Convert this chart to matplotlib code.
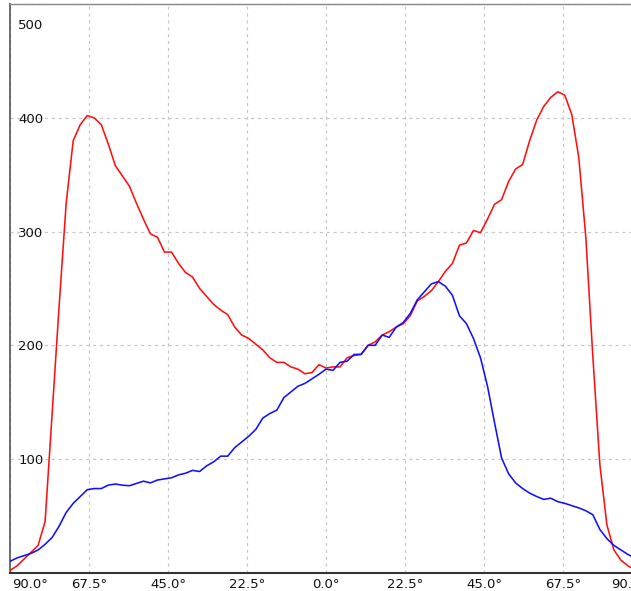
import numpy as np
import matplotlib
matplotlib.use("Agg")
import matplotlib.pyplot as plt
from matplotlib.transforms import ScaledTranslation

# Sample angles (degrees), 2-degree steps
angles = np.arange(-90, 91, 2)

red_counts = [
    2, 6, 12, 18, 24, 45, 140, 235, 325, 380,
    394, 402, 400, 394, 377, 358, 349, 340, 325, 311,
    298, 295, 282, 282, 272, 264, 260, 250, 243, 236,
    231, 227, 216, 209, 206, 201, 196, 189, 185, 185,
    181, 179, 175, 176, 183, 180, 181, 181, 189, 191,
    192, 200, 203, 209, 212, 216, 219, 226, 239, 243,
    248, 256, 265, 272, 288, 290, 301, 299, 311, 324,
    328, 344, 355, 359, 380, 398, 410, 418, 423, 420,
    403, 365, 295, 190, 95, 42, 20, 11, 6, 3,
    1,
]

blue_counts = [
    10, 13, 15, 17, 20, 25, 31, 41, 53, 61,
    67, 73, 74, 74, 77, 78, 77, 76.5, 78.5, 80.5,
    79, 81.5, 82.5, 83.5, 86, 87.5, 90, 89, 94, 97.5,
    102.5, 102.5, 110, 115, 120, 126, 136, 140, 143, 154,
    159, 164, 166.5, 170.5, 174.5, 179, 178, 185, 186, 192,
    192, 200, 200, 209, 207, 216, 220, 228, 240, 247,
    254, 256, 252, 244, 226, 219, 206, 189, 164, 132,
    101, 87, 79, 74, 70, 67, 64.5, 65.5, 62.5, 61,
    59, 57, 54.5, 51, 38, 30, 24, 20, 16, 13,
    10,
]

x_ticks = np.arange(-90, 90.1, 22.5)
x_tick_labels = [f"{abs(v):.1f}°" for v in x_ticks]
y_ticks = [100, 200, 300, 400, 500]

W, H = 631, 591
fig = plt.figure(figsize=(W / 100, H / 100), dpi=100)
fig.patch.set_facecolor("white")

# Plot area runs a little past the right edge of the canvas
left_px, right_px = 10, 642
top_px, bottom_px = 4.2, 572.7
ax = fig.add_axes([left_px / W, (H - bottom_px) / H,
                   (right_px - left_px) / W, (bottom_px - top_px) / H])

ax.plot(angles, red_counts, color="#ff1010", lw=1.15, zorder=3)
ax.plot(angles, blue_counts, color="#1010ff", lw=1.15, zorder=3)

ax.set_xlim(-90, 90)
ax.set_ylim(0, 500)

ax.set_xticks(x_ticks)
ax.set_xticklabels(x_tick_labels)
ax.set_yticks(y_ticks)
ax.set_yticklabels([str(v) for v in y_ticks])

ax.grid(True, color="#c8c8c8", lw=0.9, linestyle=(0, (2.5, 3)))
ax.set_axisbelow(True)

ax.tick_params(axis="both", length=0, labelsize=9.5, colors="#111111")
ax.tick_params(axis="x", pad=4)
ax.tick_params(axis="y", pad=-6)
for lab in ax.get_yticklabels():
    lab.set_horizontalalignment("left")

# Keep the end labels within the visible area
ylabs = ax.get_yticklabels()
ylabs[-1].set_transform(ylabs[-1].get_transform()
                        + ScaledTranslation(0, -20 / 100, fig.dpi_scale_trans))
xlabs = ax.get_xticklabels()
xlabs[0].set_horizontalalignment("left")
xlabs[0].set_transform(xlabs[0].get_transform()
                       + ScaledTranslation(2 / 100, 0, fig.dpi_scale_trans))
xlabs[-1].set_horizontalalignment("right")
xlabs[-1].set_transform(xlabs[-1].get_transform()
                        + ScaledTranslation(5 / 100, 0, fig.dpi_scale_trans))

ax.spines["left"].set_color("#555555")
ax.spines["left"].set_linewidth(1.2)
ax.spines["bottom"].set_color("#333333")
ax.spines["bottom"].set_linewidth(1.5)
ax.spines["top"].set_color("#888888")
ax.spines["top"].set_linewidth(1.0)
ax.spines["right"].set_visible(False)

fig.savefig("out.png", dpi=100)
